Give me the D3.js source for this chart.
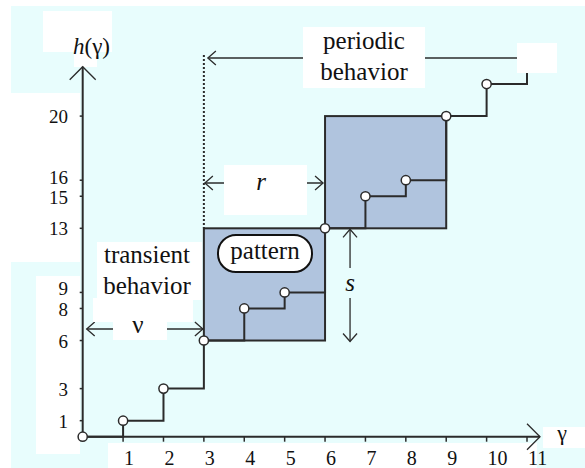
<!DOCTYPE html>
<html>
<head>
<meta charset="utf-8">
<script src="https://cdn.jsdelivr.net/npm/d3@7"></script>
<style>
  body { margin: 0; background: #fff; }
  svg text { font-family: "Liberation Serif", "DejaVu Serif", Times, serif; fill: #111; }
</style>
</head>
<body>
<div id="chart"></div>
<script>
// values of the step function h(gamma)
var gammas = [0, 1, 2, 3, 4, 5, 6, 7, 8, 9, 10, 11];
var hValues = [0, 1, 3, 6, 8, 9, 13, 15, 16, 20, 22, 23];
var xTickValues = [1, 2, 3, 4, 5, 6, 7, 8, 9, 10, 11];
var yTickValues = [1, 3, 6, 8, 9, 13, 15, 16, 20];
// nudges for the crowded y tick labels
var yLabelShift = { 8: 8, 9: 3, 15: 8, 16: 4 };
// periodic part: blocks start at these gammas, each one period long
var patternStarts = [3, 6];
var period = 3;
var transientEnd = 3;

var W = 585, H = 468;
var ink = '#2b2b2b';
var serif = 'Liberation Serif, DejaVu Serif, Times, serif';

var svg = d3.select('#chart').append('svg')
    .attr('width', W)
    .attr('height', H)
    .attr('font-family', serif);

var x = d3.scaleLinear().domain([0, 11]).range([82.7, 527]);
var y = d3.scaleLinear().domain([0, 20]).range([436.7, 116.1]);

// background
svg.append('rect').attr('x', 11).attr('y', 6).attr('width', W - 11).attr('height', H - 6)
    .attr('fill', '#e8fdfd');

// small open arrow head
function head(g, ax, ay, dx, dy, len, half, w) {
    // dx,dy = unit direction the arrow points
    var bx = ax - dx * len, by = ay - dy * len;
    var px = -dy * half, py = dx * half;
    g.append('path')
        .attr('d', 'M' + (bx + px) + ',' + (by + py) + 'L' + ax + ',' + ay + 'L' + (bx - px) + ',' + (by - py))
        .attr('fill', 'none').attr('stroke', ink).attr('stroke-width', w);
}
function arrow(g, x1, y1, x2, y2, both) {
    g.append('line').attr('x1', x1).attr('y1', y1).attr('x2', x2).attr('y2', y2)
        .attr('stroke', ink).attr('stroke-width', 1.3);
    var L = Math.hypot(x2 - x1, y2 - y1), dx = (x2 - x1) / L, dy = (y2 - y1) / L;
    head(g, x2, y2, dx, dy, 8, 7, 1.3);
    if (both) head(g, x1, y1, -dx, -dy, 8, 7, 1.3);
}

// pattern blocks
svg.selectAll('rect.block').data(patternStarts).enter().append('rect')
    .attr('class', 'block')
    .attr('x', function(d){ return x(d); })
    .attr('y', function(d){ return y(hValues[d + period]); })
    .attr('width', function(d){ return x(d + period) - x(d); })
    .attr('height', function(d){ return y(hValues[d]) - y(hValues[d + period]); })
    .attr('fill', '#b0c4de')
    .attr('stroke', ink).attr('stroke-width', 2);

// step line
var stepPath = '';
for (var i = 0; i < gammas.length - 1; i++) {
    stepPath += 'M' + x(gammas[i]) + ',' + y(hValues[i]) +
        'H' + x(gammas[i + 1]) + 'V' + y(hValues[i + 1]);
}
svg.append('path').attr('d', stepPath)
    .attr('fill', 'none').attr('stroke', ink).attr('stroke-width', 2);

// annotations
var ann = svg.append('g');
var x3 = x(transientEnd);
ann.append('line').attr('x1', x3).attr('x2', x3).attr('y1', 55).attr('y2', y(13))
    .attr('stroke', ink).attr('stroke-width', 2).attr('stroke-dasharray', '2,2');
arrow(ann, 517, 58, x3 + 4, 58, false);
arrow(ann, x3 + 1, 183, x(transientEnd + period) - 2, 183, true);
arrow(ann, x(0) + 4, 329, x3 - 1, 329, true);
var sx = x(transientEnd + period) + 25;
arrow(ann, sx, 268, sx, y(13) + 1, false);
arrow(ann, sx, 298, sx, y(6) + 1, false);

// white text panels
var panels = [
    [0, 93, 80, 169], [36, 276, 44, 178], [43, 11, 69, 41], [74, 52, 23, 15],
    [303, 27, 122, 61], [517, 43, 40, 30], [224, 165, 83, 50],
    [97, 242, 105, 58], [93, 298, 100, 24], [113, 315, 54, 25],
    [108, 443, 429, 25], [543, 427, 42, 21]
];
svg.selectAll('rect.panel').data(panels).enter().append('rect')
    .attr('class', 'panel')
    .attr('x', function(d){ return d[0]; }).attr('y', function(d){ return d[1]; })
    .attr('width', function(d){ return d[2]; }).attr('height', function(d){ return d[3]; })
    .attr('fill', '#fff');

// pattern label
svg.append('rect').attr('x', 218).attr('y', 235).attr('width', 94).attr('height', 37)
    .attr('rx', 18).attr('fill', '#fff').attr('stroke', '#111').attr('stroke-width', 2);

// axes
var axes = svg.append('g');
axes.append('line').attr('x1', x(0)).attr('y1', y(0)).attr('x2', x(11) + 13).attr('y2', y(0))
    .attr('stroke', ink).attr('stroke-width', 2);
axes.append('line').attr('x1', x(0)).attr('y1', y(0)).attr('x2', x(0)).attr('y2', 66.7)
    .attr('stroke', ink).attr('stroke-width', 2);
head(axes, x(11) + 13, y(0), 1, 0, 13, 13, 1.3);
head(axes, x(0), 66.7, 0, -1, 13, 13, 1.3);

axes.selectAll('line.xt').data(xTickValues).enter().append('line')
    .attr('x1', function(d){ return x(d); }).attr('x2', function(d){ return x(d); })
    .attr('y1', y(0)).attr('y2', y(0) + 5)
    .attr('stroke', ink).attr('stroke-width', 1.5);
axes.selectAll('line.yt').data(yTickValues).enter().append('line')
    .attr('x1', x(0) - 3).attr('x2', x(0))
    .attr('y1', function(d){ return y(d); }).attr('y2', function(d){ return y(d); })
    .attr('stroke', ink).attr('stroke-width', 1.5);

axes.selectAll('text.xl').data(xTickValues).enter().append('text')
    .attr('x', function(d){ return x(d) + 1; }).attr('y', 465)
    .attr('font-size', 20).text(function(d){ return d; });
axes.selectAll('text.yl').data(yTickValues).enter().append('text')
    .attr('x', 68).attr('y', function(d){ return y(d) + (yLabelShift[d] || 7); })
    .attr('text-anchor', 'end').attr('font-size', 19).text(function(d){ return d; });

// points on top of the axes
svg.selectAll('circle.pt').data(gammas.slice(0, -1)).enter().append('circle')
    .attr('class', 'pt')
    .attr('cx', function(d){ return x(d); })
    .attr('cy', function(d, i){ return y(hValues[i]); })
    .attr('r', 4.6)
    .attr('fill', '#fff').attr('stroke', ink).attr('stroke-width', 1.5);

// labels
function label(t, px, py, size, italic) {
    svg.append('text').attr('x', px).attr('y', py).attr('font-size', size)
        .attr('text-anchor', 'middle').attr('font-style', italic ? 'italic' : 'normal').text(t);
}
label('periodic', 364, 49, 25);
label('behavior', 364, 80, 25);
label('transient', 147, 263, 25);
label('behavior', 147, 294, 25);
label('pattern', 265, 259, 25);
label('\u03bd', 138, 333, 25);
label('r', 261, 190, 25, true);
label('s', 350, 291, 25, true);
label('\u03b3', 562, 440, 22);

var hl = svg.append('text').attr('x', 73).attr('y', 54).attr('font-size', 23);
hl.append('tspan').attr('font-style', 'italic').text('h');
hl.append('tspan').text('(\u03b3)');
</script>
</body>
</html>
